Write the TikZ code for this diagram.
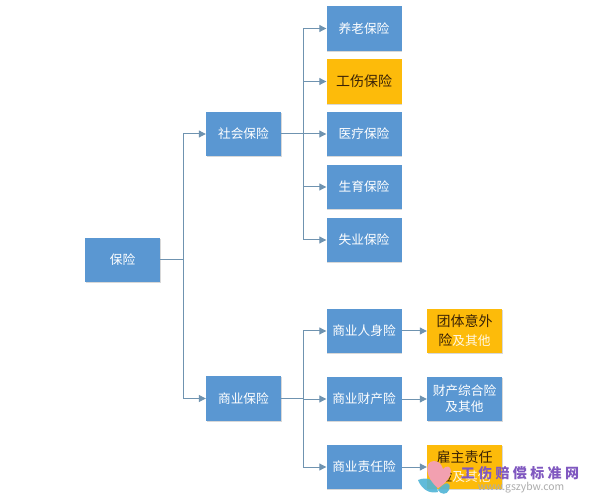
\documentclass[tikz,border=0pt]{standalone}
\usepackage{fontspec}
\setmainfont{Noto Sans CJK SC}
\newfontfamily\wmfont[LetterSpace=24]{Noto Sans CJK SC}
\usetikzlibrary{arrows.meta,shadows}
\definecolor{boxblue}{HTML}{5A97D2}
\definecolor{boxgold}{HTML}{FDBB0A}
\definecolor{linec}{HTML}{6F93B0}
\definecolor{inkdark}{HTML}{3A2206}
\definecolor{wmpurple}{HTML}{8058C0}
\definecolor{wmblue}{HTML}{4FB4D6}
\definecolor{wmpink}{HTML}{F2A0B0}
\tikzset{
 x=1pt,y=-1pt,
 bx/.style={minimum width=75pt,minimum height=44.5pt,inner sep=1pt,align=center,text width=72pt,anchor=center,drop shadow={shadow xshift=0.5pt,shadow yshift=-1pt,opacity=.3,fill=gray}},
 blue/.style={bx,fill=boxblue,text=white,font=\fontsize{12.7}{17}\selectfont},
 gold/.style={bx,fill=boxgold,text=inkdark,font=\fontsize{14}{20}\selectfont},
 conn/.style={draw=linec,line width=1pt},
 arr/.style={conn,-{Triangle[length=7pt,width=7pt,fill=linec]}},
}
\begin{document}
\begin{tikzpicture}
\useasboundingbox (0,0) rectangle (590,500);
\fill[white] (0,0) rectangle (590,500);
\node[blue] (root) at (122.5,260) {保险};
\node[blue] (soc) at (243.5,134) {社会保险};
\node[blue] (com) at (243.5,398.5) {商业保险};
\node[blue] (a1) at (364,28.5) {养老保险};
\node[gold] (a2) at (364,81.5) {工伤保险};
\node[blue] (a3) at (364,134) {医疗保险};
\node[blue] (a4) at (364,187) {生育保险};
\node[blue] (a5) at (364,240) {失业保险};
\node[blue] (b1) at (364,331) {商业人身险};
\node[blue] (b2) at (364,399) {商业财产险};
\node[blue] (b3) at (364,467) {商业责任险};
\node[gold] (c1) at (464.5,331) {团体意外\\[-1pt]险{\color{white!90!boxgold}\fontsize{12.7}{17}\selectfont 及其他}};
\node[blue] (c2) at (464.5,399) {财产综合险\\[-1pt]及其他};
\node[gold] (c3) at (464.5,467) {雇主责任\\[-1pt]险{\color{white!90!boxgold}\fontsize{12.7}{17}\selectfont 及其他}};
\coordinate (t1) at (183,260);
\coordinate (t2) at (303,134);
\coordinate (t3) at (303,398.5);
\draw[conn] (root.east) -- (t1);
\draw[arr] (t1) |- (soc.west);
\draw[arr] (t1) |- (com.west);
\draw[conn] (soc.east) -- (t2);
\foreach \n in {a1,a2,a3,a4,a5}{\draw[arr] (t2) |- (\n.west);}
\draw[conn] (com.east) -- (t3);
\foreach \n in {b1,b2,b3}{\draw[arr] (t3) |- (\n.west);}
\draw[arr] (b1.east) -- (c1.west);
\draw[arr] (b2.east) -- (c2.west);
\draw[arr] (b3.east) -- (c3.west);
% watermark
\fill[wmblue,opacity=.9] (418,480) .. controls (428,476) and (436,480) .. (438,492) .. controls (430,494) and (422,490) .. (418,480) -- cycle;
\fill[wmblue,opacity=.9] (438,490) .. controls (444,482) and (452,480) .. (449,490) .. controls (447,495) and (441,495) .. (438,490) -- cycle;
\fill[wmpink] (438,488) .. controls (425,478) and (424,461) .. (434,461) .. controls (439,461) and (442,465) .. (443,469) .. controls (446,465) and (451,466) .. (451,471) .. controls (451,477) and (445,484) .. (438,488) -- cycle;
\node[text=wmpurple,font=\fontsize{14}{14}\selectfont\wmfont\bfseries,anchor=center,inner sep=0pt] (wm) at (520,473) {工伤赔偿标准网};
\node[text=gray!65,font=\fontsize{10.4}{11}\selectfont,anchor=center,inner sep=0pt] (wmu) at (521,488) {www.gszybw.com};
\end{tikzpicture}
\end{document}
